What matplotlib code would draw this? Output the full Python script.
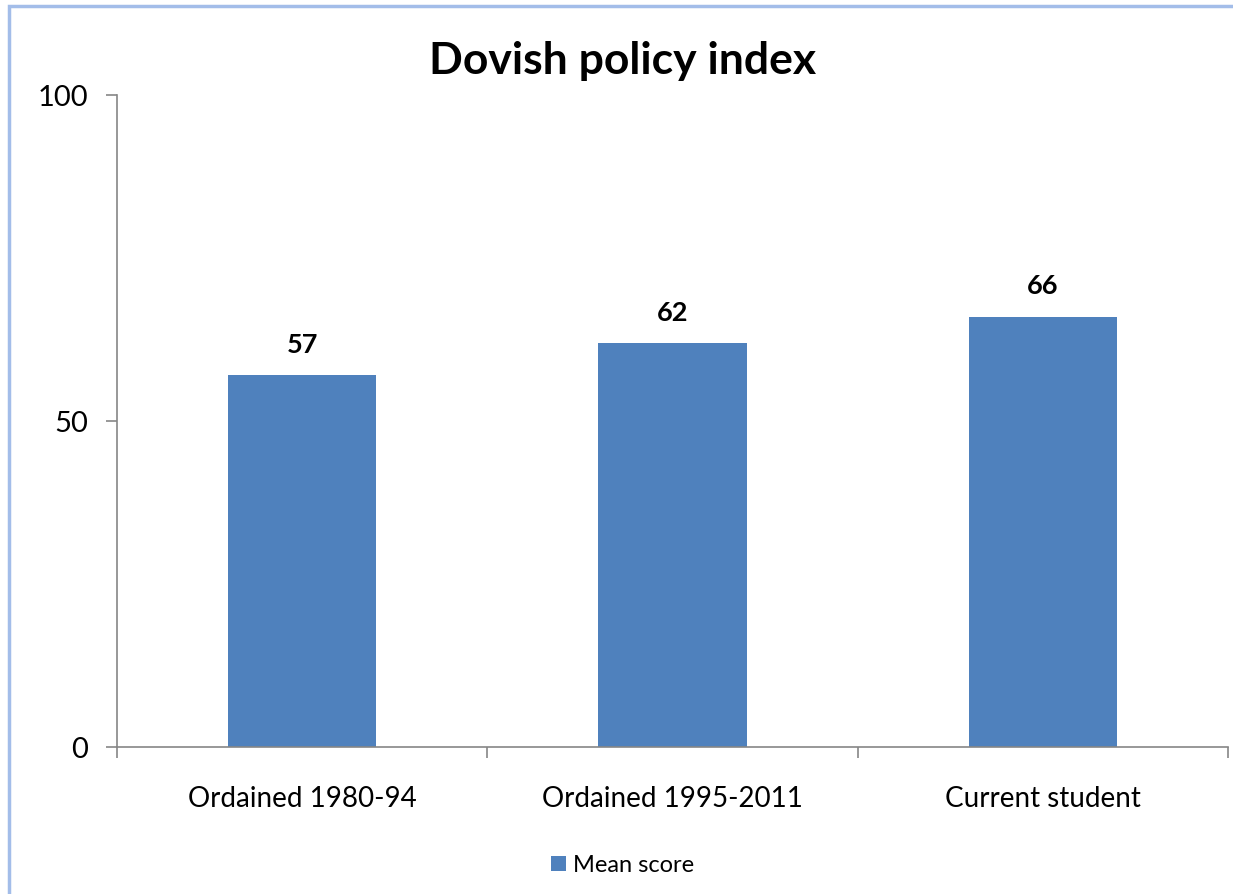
import matplotlib.pyplot as plt
from matplotlib.patches import Rectangle

categories = ['Ordained 1980-94', 'Ordained 1995-2011', 'Current student']
mean_score = [57, 62, 66]

plt.rcParams['font.family'] = ['Lato', 'DejaVu Sans']

fig = plt.figure(figsize=(12.33, 8.94), dpi=100)
ax = fig.add_axes([0.0949, 0.1644, 0.901, 0.7293])

# light blue frame round the chart area
fig.patches.append(Rectangle((9 / 1233, -0.1), 1.2, 1 - 6 / 894 + 0.1, transform=fig.transFigure,
                             fill=False, edgecolor='#a3bde9', linewidth=2.5))

x = range(len(categories))
bars = ax.bar(x, mean_score, width=0.4, color='#4f81bd', label='Mean score')
for b, v in zip(bars, mean_score):
    ax.text(b.get_x() + b.get_width() / 2, v + 2.8, str(v), ha='center', va='bottom',
            fontsize=19.5, fontweight='bold')

ax.set_xlim(-0.5, 2.5)
ax.set_ylim(0, 100)
ax.set_yticks([0, 50, 100])
ax.set_xticks([-0.5, 0.5, 1.5, 2.5])
ax.set_xticklabels([])
ax.set_xticks(list(x), minor=True)
ax.set_xticklabels(categories, minor=True, fontsize=20)
ax.tick_params(axis='x', which='minor', length=0, pad=28)
ax.tick_params(axis='x', which='major', length=8, color='#868686', width=1.2)
ax.tick_params(axis='y', length=8, color='#868686', width=1.2, labelsize=21, pad=13)

for s in ['top', 'right']:
    ax.spines[s].set_visible(False)
for s in ['left', 'bottom']:
    ax.spines[s].set_color('#868686')
    ax.spines[s].set_linewidth(1.2)

fig.text(0.505, 0.932, 'Dovish policy index', ha='center', va='center', fontsize=32, fontweight='bold')
fig.legend(loc='center', bbox_to_anchor=(0.505, 0.032), frameon=False, fontsize=17,
           handlelength=0.6, handleheight=0.6, handletextpad=0.3)

plt.savefig('out.png', dpi=100)
